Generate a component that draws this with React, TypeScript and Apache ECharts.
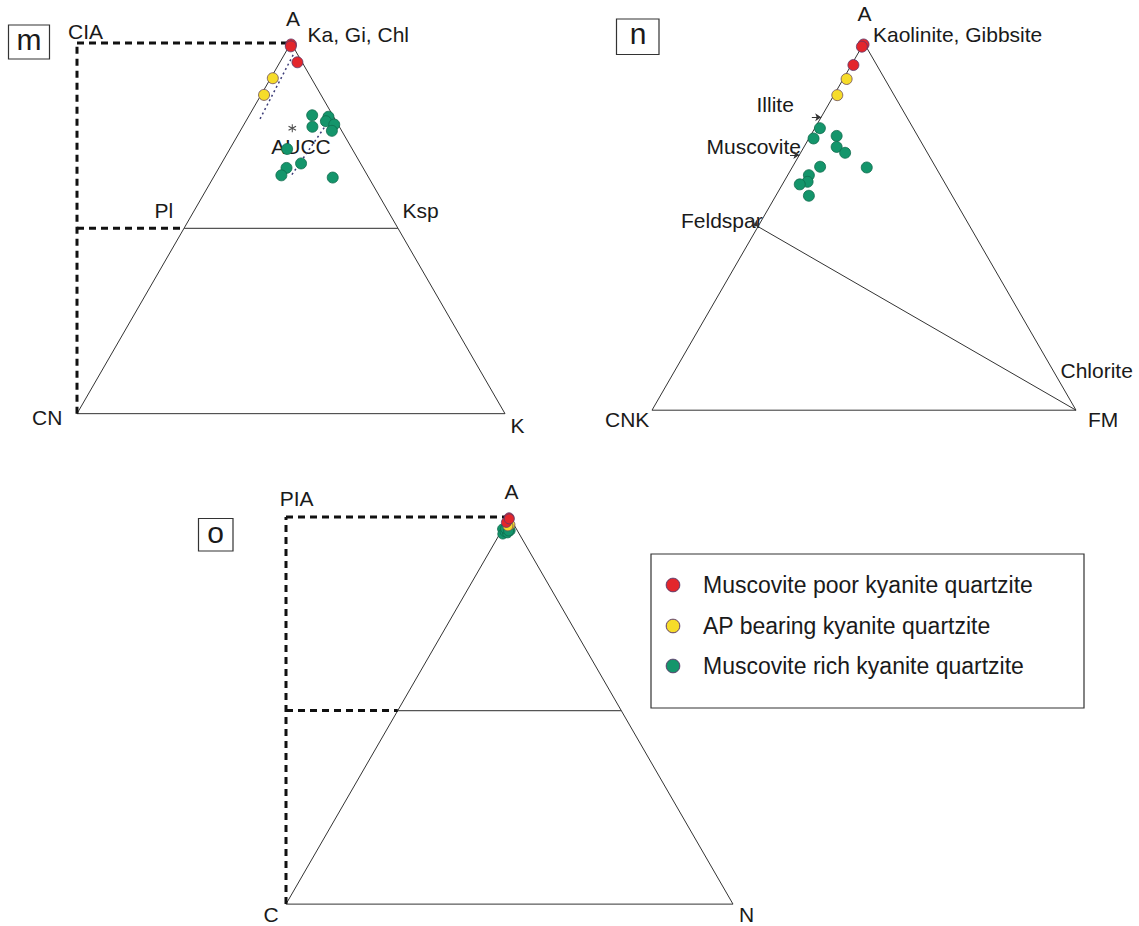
import React, { useEffect, useRef } from "react";
import * as echarts from "echarts";

const H = Math.sqrt(3) / 2;
const FONT = "'Liberation Sans', Arial, sans-serif";

const classNames = [
  "Muscovite poor kyanite quartzite",
  "AP bearing kyanite quartzite",
  "Muscovite rich kyanite quartzite",
];
const classColors = ["#e3262c", "#f6dc2a", "#14956b"];
const classBorders = ["#5a3a6a", "#6a4a5a", "#0f6b4d"];

// Panel m: [A, CN, K] (%)
const mPoor = [[99.6, 0.2, 0.2], [99.1, 0.5, 0.4], [94.8, 1.1, 4.1]];
const mAP = [[90.5, 9.0, 0.5], [86.0, 13.3, 0.7]];
const mRich = [
  [80.5, 4.8, 14.7], [77.4, 6.3, 16.3], [80.1, 1.2, 18.7], [78.9, 2.4, 18.7],
  [78.0, 0.9, 21.1], [76.3, 2.3, 21.4], [71.4, 15.2, 13.4], [67.5, 13.9, 18.6],
  [66.3, 17.9, 15.8], [64.3, 20.1, 15.6], [63.7, 8.4, 27.9],
];
const mAUCC = [77.0, 11.2, 11.8];
const mTrend1 = [[96.8, 1.1, 2.1], [79.5, 17.5, 3.0]];
const mTrend2 = [[80.5, 0.0, 19.5], [63.8, 18.3, 17.9]];
const mFeldsparLine = [[50, 50, 0], [50, 0, 50]];

// Panel n: [A, CNK, FM] (%)
const nPoor = [[99.6, 0.3, 0.1], [99.0, 1.0, 0.0], [94.0, 5.5, 0.5]];
const nAP = [[90.2, 9.0, 0.8], [85.8, 13.4, 0.8]];
const nRich = [
  [76.8, 22.0, 1.2], [74.0, 24.9, 1.1], [74.7, 19.1, 6.2], [71.7, 20.6, 7.7],
  [70.1, 19.4, 10.5], [66.3, 27.2, 6.5], [66.1, 16.3, 17.6], [64.0, 31.0, 5.0],
  [62.2, 32.2, 5.6], [61.5, 34.4, 4.1], [58.4, 33.8, 7.8],
];
const nFeldsparLine = [[50, 50, 0], [0, 0, 100]];
const nArrowTips = [[79.8, 20.2, 0], [69.5, 30.5, 0], [50, 50, 0]]; // Illite, Muscovite, Feldspar

// Panel o: [A, C, N] (%)
const oPoor = [[99.8, 0.2, 0.0], [98.6, 1.4, 0.0], [99.5, 0.3, 0.2]];
const oAP = [[98.0, 0.9, 1.1], [97.7, 1.5, 0.8]];
const oRich = [
  [96.9, 3.1, 0.0], [96.1, 2.6, 1.3], [96.5, 1.6, 1.9], [95.6, 3.7, 0.7],
  [97.2, 1.8, 1.0], [96.8, 2.2, 1.0], [97.5, 1.5, 1.0], [96.2, 2.9, 0.9],
  [95.9, 2.5, 1.6], [97.0, 2.4, 0.6], [96.4, 2.0, 1.6],
];
const oFeldsparLine = [[50, 50, 0], [50, 0, 50]];

// index ticks on the left (CIA / PIA): 100 and 50
const indexTicks = [100, 50];

const triangle = [[0, 100, 0], [0, 0, 100], [100, 0, 0], [0, 100, 0]];

const ASTERISK =
  "path://M44,0L56,0L56,100L44,100Z M3.7,30.2L9.7,19.8L96.3,69.8L90.3,80.2Z M90.3,19.8L96.3,30.2L9.7,80.2L3.7,69.8Z";

function toXY(t: number[]) {
  const s = t[0] + t[1] + t[2];
  const a = t[0] / s;
  const r = t[2] / s;
  return [r + a / 2, a * H];
}

function lineSeries(gi: number, pts: number[][], style: any) {
  return {
    type: "line",
    xAxisIndex: gi,
    yAxisIndex: gi,
    data: pts,
    symbol: "none",
    silent: true,
    clip: false,
    animation: false,
    lineStyle: style,
    z: 1,
  };
}

function scatter(gi: number, ci: number, pts: number[][], size = 11) {
  return {
    type: "scatter",
    name: classNames[ci],
    xAxisIndex: gi,
    yAxisIndex: gi,
    data: pts.map(toXY),
    symbol: "circle",
    symbolSize: size,
    clip: false,
    itemStyle: { color: classColors[ci], borderColor: classBorders[ci], borderWidth: 0.8, opacity: 1 },
    z: 3 + (2 - ci),
  };
}

const frameStyle = { color: "#333", width: 1 };
const midStyle = { color: "#555", width: 1.3 };
const dashStyle = { color: "#111", width: 3, type: [7, 5] };
const trendStyle = { color: "#3c3c78", width: 1.5, type: [2, 3] };

function indexLines(gi: number) {
  const top = toXY([indexTicks[0], 100 - indexTicks[0], 0]);
  const midEdge = toXY([indexTicks[1], 100 - indexTicks[1], 0]);
  return [
    lineSeries(gi, [[0, 0], [0, top[1]]], dashStyle),
    lineSeries(gi, [[0, top[1]], top], dashStyle),
    lineSeries(gi, [[0, midEdge[1]], midEdge], dashStyle),
  ];
}

function txt(text: string, x: number, y: number, extra: any = {}) {
  const align = extra.align || "left";
  return {
    type: "text",
    x,
    y,
    silent: true,
    style: {
      text,
      fill: "#1a1a1a",
      fontSize: 21,
      fontFamily: FONT,
      align,
      textAlign: align,
      verticalAlign: "middle",
      textVerticalAlign: "middle",
      ...extra,
    },
  };
}

function box(x: number, y: number, w: number, h: number) {
  return {
    type: "rect",
    silent: true,
    shape: { x, y, width: w, height: h },
    style: { fill: "none", stroke: "#333", lineWidth: 1.2 },
  };
}

const arrowLen = 0.022;
const nArrows = nArrowTips.map((t, i) => {
  const tip = toXY(t);
  const start = i === 2 ? [tip[0] - 0.017, tip[1] + 0.017] : [tip[0] - arrowLen, tip[1]];
  return { coords: [start, tip] };
});

const legendRows = [585, 626, 666];

const option: any = {
  animation: false,
  backgroundColor: "#ffffff",
  grid: [
    { left: 77, top: 43, width: 428, height: 428 * H },
    { left: 652, top: 43, width: 424, height: 424 * H },
    { left: 286, top: 517, width: 447, height: 447 * H },
  ],
  xAxis: [0, 1, 2].map((i) => ({ type: "value", gridIndex: i, min: 0, max: 1, show: false })),
  yAxis: [0, 1, 2].map((i) => ({ type: "value", gridIndex: i, min: 0, max: H, show: false })),
  series: [
    // Panel m
    lineSeries(0, triangle.map(toXY), frameStyle),
    lineSeries(0, mFeldsparLine.map(toXY), midStyle),
    ...indexLines(0),
    lineSeries(0, mTrend1.map(toXY), trendStyle),
    lineSeries(0, mTrend2.map(toXY), trendStyle),
    {
      type: "scatter",
      name: "AUCC",
      xAxisIndex: 0,
      yAxisIndex: 0,
      data: [toXY(mAUCC)],
      symbol: ASTERISK,
      symbolSize: 8,
      clip: false,
      silent: true,
      itemStyle: { color: "#222" },
      z: 2,
    },
    scatter(0, 2, mRich),
    scatter(0, 1, mAP),
    scatter(0, 0, mPoor),
    // Panel n
    lineSeries(1, triangle.map(toXY), frameStyle),
    lineSeries(1, nFeldsparLine.map(toXY), frameStyle),
    {
      type: "lines",
      coordinateSystem: "cartesian2d",
      xAxisIndex: 1,
      yAxisIndex: 1,
      data: nArrows,
      symbol: ["none", "arrow"],
      symbolSize: 6,
      silent: true,
      lineStyle: { color: "#333", width: 1, opacity: 1 },
      z: 2,
    },
    scatter(1, 2, nRich),
    scatter(1, 1, nAP),
    scatter(1, 0, nPoor),
    // Panel o
    lineSeries(2, triangle.map(toXY), frameStyle),
    lineSeries(2, oFeldsparLine.map(toXY), midStyle),
    ...indexLines(2),
    scatter(2, 2, oRich, 10),
    scatter(2, 1, oAP, 10),
    scatter(2, 0, oPoor, 10),
  ],
  graphic: [
    // panel m
    box(8.5, 25, 41, 34),
    txt("m", 29, 39, { align: "center", fontSize: 30 }),
    txt("CIA", 85.5, 31.7, { align: "center" }),
    txt("A", 293, 18.5, { align: "center" }),
    txt("Ka, Gi, Chl", 307.5, 34.3),
    txt("Pl", 154.5, 210.7),
    txt("Ksp", 402.5, 210.7),
    txt("AUCC", 301, 146, { align: "center" }),
    txt("CN", 32, 417.5),
    txt("K", 510.5, 425),
    // panel n
    box(616.5, 19, 42.5, 35.5),
    txt("n", 638, 33.5, { align: "center", fontSize: 30 }),
    txt("A", 864.5, 13.7, { align: "center" }),
    txt("Kaolinite, Gibbsite", 873, 34.4),
    txt("Illite", 756.5, 104.8),
    txt("Muscovite", 706.5, 146),
    txt("Feldspar", 681, 220),
    txt("Chlorite", 1060.5, 370.2),
    txt("CNK", 605, 419.7),
    txt("FM", 1088, 419.7),
    // panel o
    box(198.5, 518.5, 34.5, 32.5),
    txt("o", 215.5, 532.5, { align: "center", fontSize: 30 }),
    txt("PIA", 296.7, 498, { align: "center" }),
    txt("A", 511.5, 491.7, { align: "center" }),
    txt("C", 263.5, 914),
    txt("N", 739, 914),
    // legend
    box(651, 554, 433, 154),
    ...classNames.map((n, i) => ({
      type: "circle",
      silent: true,
      shape: { cx: 673, cy: legendRows[i], r: 6.8 },
      style: { fill: classColors[i], stroke: "#5a3a6a", lineWidth: 1 },
    })),
    ...classNames.map((n, i) => txt(n, 703, legendRows[i], { fontSize: 23 })),
  ],
};

export default function App() {
  const ref = useRef<HTMLDivElement>(null);
  useEffect(() => {
    const chart = echarts.init(ref.current!, null, { renderer: "svg" });
    chart.setOption(option);
    return () => chart.dispose();
  }, []);
  return (
    <div
      ref={ref}
      style={{ position: "absolute", left: 0, top: 0, width: 1139, height: 926, background: "#fff" }}
    />
  );
}
